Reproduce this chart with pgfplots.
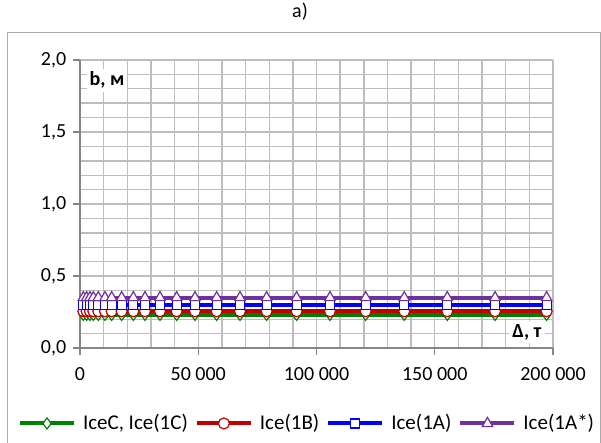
\documentclass[border=0pt]{standalone}
\usepackage{fontspec}
\setmainfont{Carlito}
\usepackage{pgfplots}
\pgfplotsset{compat=1.18}
\definecolor{gGreen}{HTML}{008000}
\definecolor{gRed}{HTML}{C00000}
\definecolor{gBlue}{HTML}{0000FF}
\definecolor{gPurple}{HTML}{7030A0}
\definecolor{gridgray}{RGB}{190,190,190}
\definecolor{axisgray}{RGB}{134,134,134}

\pgfplotstableread{
x      g     r      b     p
1400   0.230 0.255  0.300 0.350
2800   0.230 0.255  0.300 0.350
4200   0.230 0.255  0.300 0.350
5640   0.230 0.255  0.300 0.350
7750   0.230 0.255  0.300 0.350
10570  0.230 0.255  0.300 0.350
13390  0.230 0.255  0.300 0.350
17620  0.230 0.255  0.300 0.350
22550  0.230 0.255  0.300 0.350
27480  0.230 0.255  0.300 0.350
33820  0.230 0.255  0.300 0.350
40870  0.230 0.255  0.300 0.350
48620  0.230 0.255  0.300 0.350
57780  0.230 0.255  0.300 0.350
67650  0.230 0.255  0.300 0.350
78920  0.230 0.255  0.300 0.350
91600  0.230 0.255  0.300 0.350
105700 0.230 0.255  0.300 0.350
120800 0.230 0.255  0.300 0.350
137100 0.230 0.255  0.300 0.350
155300 0.230 0.255  0.300 0.350
175500 0.230 0.255  0.300 0.350
197300 0.230 0.255  0.300 0.350
}\datatable

\begin{document}
\fontsize{20bp}{24bp}\selectfont
\begin{tikzpicture}
\useasboundingbox (-80bp,-95bp) rectangle (521bp,348bp);
\draw[axisgray!70, line width=1bp] (-72bp,-120bp) rectangle (520bp,315bp);
\node[font=\fontsize{20bp}{24bp}\selectfont] at (220bp,336bp) {a)};
\begin{axis}[
    at={(0bp,0bp)}, anchor=south west,
    scale only axis,
    width=473bp, height=288bp,
    xmin=0, xmax=200000,
    ymin=0, ymax=2,
    scaled x ticks=false,
    xtick={0,50000,100000,150000,200000},
    xticklabels={0, 50 000, 100 000, 150 000, 200 000},
    ytick={0,0.5,1,1.5,2},
    yticklabels={{0,0},{0,5},{1,0},{1,5},{2,0}},
    minor xtick={10000,20000,30000,40000,60000,70000,80000,90000,110000,120000,130000,140000,160000,170000,180000,190000},
    minor ytick={0.1,0.2,0.3,0.4,0.6,0.7,0.8,0.9,1.1,1.2,1.3,1.4,1.6,1.7,1.8,1.9},
    grid=both,
    major grid style={gridgray, line width=1.4bp},
    minor grid style={gridgray, line width=1.4bp},
    axis x line=bottom, axis y line=left,
    axis line style={-, axisgray, line width=1.3bp},
    tick align=outside,
    major tick length=7bp, minor tick length=0pt,
    tick style={axisgray, line width=1.3bp},
    xticklabel style={yshift=-6bp},
    ticklabel style={font=\fontsize{20bp}{24bp}\selectfont},
    legend style={at={(0.480,-0.262)}, anchor=center, draw=none, fill=none,
        legend columns=4,
        /tikz/every odd column/.append style={column sep=5bp},
        /tikz/every even column/.append style={column sep=5bp},
        font=\fontsize{21bp}{25bp}\selectfont},
    legend cell align=left,
    legend image code/.code={\draw[mark repeat=2,mark phase=2,#1] plot coordinates {(0bp,0bp) (27bp,0bp) (54bp,0bp)};},
    clip=false,
]
\addplot[gGreen, line width=4bp, mark=diamond*, mark size=5.5bp,
    mark options={fill=white, line width=1.2bp, solid}] table[x=x, y=g] {\datatable};
\addplot[gRed, line width=4bp, mark=*, mark size=5.5bp,
    mark options={fill=white, line width=1.2bp, solid}] table[x=x, y=r] {\datatable};
\addplot[gBlue, line width=4bp, mark=square*, mark size=4.5bp,
    mark options={fill=white, line width=1.2bp, solid}] table[x=x, y=b] {\datatable};
\addplot[gPurple, line width=4bp, mark=triangle*, mark size=6bp,
    mark options={fill=white, line width=1.2bp, solid}] table[x=x, y=p] {\datatable};
\legend{{IceC, Ice(1C)}, Ice(1B), Ice(1A), Ice(1A*)}
\node[fill=white, font=\bfseries\fontsize{20bp}{24bp}\selectfont, inner sep=3bp] at (axis description cs:0.057,0.93) {b, м};
\node[fill=white, font=\bfseries\fontsize{20bp}{24bp}\selectfont, inner sep=3bp] at (axis description cs:0.945,0.055) {Δ, т};
\end{axis}
\end{tikzpicture}
\end{document}
